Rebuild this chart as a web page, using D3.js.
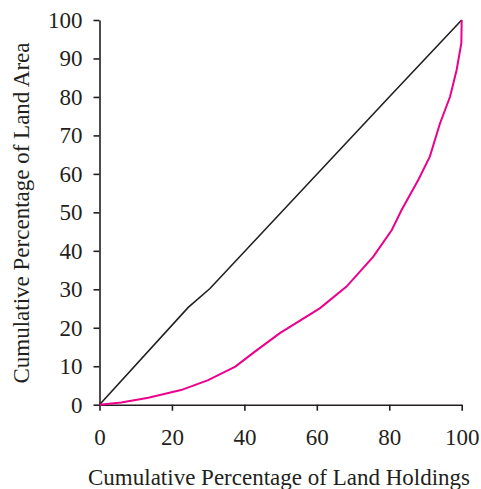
<!DOCTYPE html>
<html>
<head>
<meta charset="utf-8">
<script src="https://cdn.jsdelivr.net/npm/d3@7"></script>
<style>
  html, body { margin: 0; padding: 0; background: #fff; }
  svg text { font-family: "Liberation Serif", "Times New Roman", serif; fill: #231f20; }
</style>
</head>
<body>
<svg id="chart" width="481" height="489"></svg>
<script>
// Lorenz curve of land holdings
const holdingsPct = [0, 6, 13.5, 22.5, 30, 37.5, 42.9, 49.8, 60.9, 68.2, 75.6, 80.7, 83.4, 88, 91.2, 94, 96.8, 98.6, 99.9, 100];
const areaPct     = [0, 0.6, 1.8, 3.8, 6.4, 9.9, 13.8, 18.6, 25.1, 30.7, 38.5, 45.4, 50.6, 58.4, 64.5, 73.1, 80.1, 87, 94, 100];

// line of equal distribution
const equalX = [0, 24.5, 30.5, 80.5, 100];
const equalY = [0, 25.3, 30.2, 80.5, 100];

const xTicks = [0, 20, 40, 60, 80, 100];
const yTicks = [0, 10, 20, 30, 40, 50, 60, 70, 80, 90, 100];

const xTitle = "Cumulative Percentage of Land Holdings";
const yTitle = "Cumulative Percentage of Land Area";

const svg = d3.select("#chart");
const x = d3.scaleLinear().domain([0, 100]).range([99.5, 461.7]);
const y = d3.scaleLinear().domain([0, 100]).range([404.7, 20]);

const axisColor = "#231f20";
const fontSize = 23;

const xAxis = svg.append("g")
  .attr("transform", `translate(0,${y(0)})`)
  .call(d3.axisBottom(x).tickValues(xTicks).tickSize(6).tickPadding(18).tickSizeOuter(0));
const yAxis = svg.append("g")
  .attr("transform", `translate(${x(0)},0)`)
  .call(d3.axisLeft(y).tickValues(yTicks).tickSize(6).tickPadding(11).tickSizeOuter(0));

[xAxis, yAxis].forEach(g => {
  g.select(".domain").attr("stroke", axisColor).attr("stroke-width", 1.6);
  g.selectAll(".tick line").attr("stroke", axisColor).attr("stroke-width", 1.6);
  g.selectAll(".tick text").attr("font-size", fontSize).attr("font-family", null).style("fill", axisColor);
});

const line = d3.line().x(d => x(d[0])).y(d => y(d[1]));

svg.append("path")
  .datum(d3.zip(equalX, equalY))
  .attr("d", line)
  .attr("fill", "none")
  .attr("stroke", "#231f20")
  .attr("stroke-width", 1.6);

svg.append("path")
  .datum(d3.zip(holdingsPct, areaPct))
  .attr("d", line)
  .attr("fill", "none")
  .attr("stroke", "#ec008c")
  .attr("stroke-width", 2);

svg.append("text")
  .attr("x", 279)
  .attr("y", 485)
  .attr("text-anchor", "middle")
  .attr("font-size", fontSize)
  .text(xTitle);

svg.append("text")
  .attr("transform", `translate(29,213) rotate(-90)`)
  .attr("text-anchor", "middle")
  .attr("font-size", fontSize)
  .text(yTitle);
</script>
</body>
</html>
